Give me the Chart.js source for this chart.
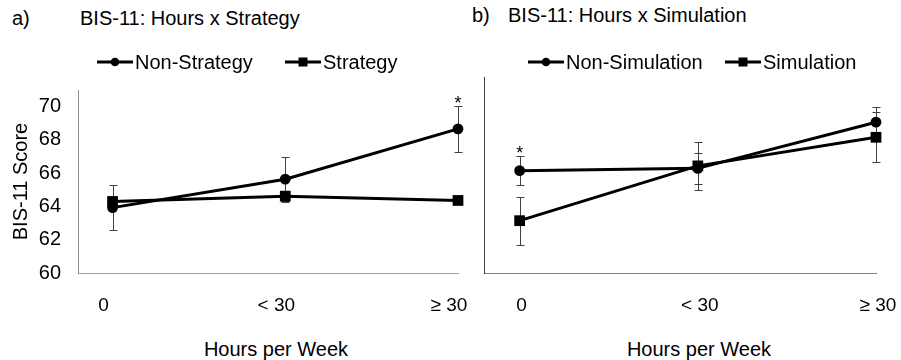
<!DOCTYPE html>
<html><head><meta charset="utf-8">
<script src="https://cdn.jsdelivr.net/npm/chart.js@4/dist/chart.umd.min.js"></script>
<style>
html,body{margin:0;padding:0;background:#fff;}
#wrap{position:relative;width:901px;height:360px;overflow:hidden;font-family:"Liberation Sans",Arial,sans-serif;color:#000;}
.t{position:absolute;white-space:nowrap;font-size:20px;line-height:20px;}
canvas{position:absolute;top:0;}
.leg{position:absolute;white-space:nowrap;font-size:20px;line-height:20px;display:flex;align-items:center;}
.leg svg{margin-right:2px;}
</style></head>
<body><div id="wrap">
<div class="t" style="left:12px;top:8px">a)</div>
<div class="t" style="left:80px;top:8px">BIS-11: Hours x Strategy</div>
<div class="t" style="left:472px;top:5px">b)</div>
<div class="t" style="left:508px;top:5px">BIS-11: Hours x Simulation</div>
<div class="t" style="left:276px;top:339px;transform:translateX(-50%)">Hours per Week</div>
<div class="t" style="left:699px;top:339px;transform:translateX(-50%)">Hours per Week</div>
<canvas id="ca" width="470" height="360" style="left:0px"></canvas>
<canvas id="cb" width="431" height="360" style="left:470px"></canvas>
</div>
<script>
// ---- data ----
const hours = ['0', '< 30', '\u2265 30'];
const yTicks = [60, 62, 64, 66, 68, 70];

const seriesA = ['Non-Strategy', 'Strategy'];
const nonStrategy = [63.93, 65.64, 68.66];
const nonStrategyErr = [1.37, 1.36, 1.38];
const nonStrategyStar = [false, false, true];
const strategy = [64.30, 64.62, 64.36];
const strategyErr = [0.28, 0.30, 0.20];
const strategyStar = [false, false, false];

const seriesB = ['Non-Simulation', 'Simulation'];
const nonSimulation = [66.16, 66.30, 69.08];
const nonSimulationErr = [0.87, 0.93, 0.94];
const nonSimulationStar = [true, false, false];
const simulation = [63.15, 66.45, 68.17];
const simulationErr = [1.45, 1.45, 1.50];
const simulationStar = [false, false, false];

const FONT = '"Liberation Sans", Arial, sans-serif';

// ---- legends (HTML) ----
function legendItem(name, style, svgLeft, top) {
  const d = document.createElement('div');
  d.className = 'leg';
  d.style.left = svgLeft + 'px';
  d.style.top = top + 'px';
  const mark = style === 'circle'
    ? '<circle cx="18" cy="6" r="4.3" fill="#000"/>'
    : '<rect x="13.5" y="1.5" width="9" height="9" fill="#000"/>';
  d.innerHTML = '<svg width="36" height="12" viewBox="0 0 36 12"><line x1="0" y1="6" x2="36" y2="6" stroke="#000" stroke-width="3"/>' + mark + '</svg><span>' + name + '</span>';
  document.getElementById('wrap').appendChild(d);
}
legendItem(seriesA[0], 'circle', 97, 52);
legendItem(seriesA[1], 'rect', 285, 52);
legendItem(seriesB[0], 'circle', 528, 52);
legendItem(seriesB[1], 'rect', 725, 52);

// ---- plugins ----
const errPlugin = {
  id: 'errbars',
  beforeDatasetsDraw(chart) {
    const ctx = chart.ctx, xs = chart.scales.x, ys = chart.scales.y;
    ctx.save();
    ctx.strokeStyle = '#404040';
    ctx.lineWidth = 1;
    chart.data.datasets.forEach(ds => {
      ds.errs.forEach((e, i) => {
        const v = ds.data[i].y;
        const px = Math.round(xs.getPixelForValue(i)) + 0.5;
        const t = Math.round(ys.getPixelForValue(v + e)) + 0.5;
        const b = Math.round(ys.getPixelForValue(v - e)) + 0.5;
        ctx.beginPath();
        ctx.moveTo(px, t); ctx.lineTo(px, b);
        ctx.moveTo(px - 4, t); ctx.lineTo(px + 4, t);
        ctx.moveTo(px - 4, b); ctx.lineTo(px + 4, b);
        ctx.stroke();
      });
    });
    ctx.restore();
  },
  afterDatasetsDraw(chart) {
    const ctx = chart.ctx, xs = chart.scales.x, ys = chart.scales.y;
    ctx.save();
    ctx.fillStyle = '#000';
    ctx.font = '18px ' + FONT;
    ctx.textAlign = 'center';
    ctx.textBaseline = 'alphabetic';
    chart.data.datasets.forEach(ds => {
      ds.stars.forEach((s, i) => {
        if (!s) return;
        const v = ds.data[i].y + ds.errs[i];
        ctx.fillText('*', xs.getPixelForValue(i), ys.getPixelForValue(v) + 3);
      });
    });
    ctx.restore();
  }
};

function pts(arr) { return arr.map((y, i) => ({ x: i, y })); }
function ds(label, vals, errs, stars, style) {
  return {
    label, data: pts(vals), errs, stars,
    borderColor: '#000', backgroundColor: '#000', borderWidth: 3,
    pointStyle: style, pointRadius: style === 'circle' ? 5.4 : 7.6,
    pointBorderWidth: 0, pointBackgroundColor: '#000', tension: 0, clip: false
  };
}

function makeChart(id, datasets, o) {
  return new Chart(document.getElementById(id), {
    type: 'line',
    data: { datasets },
    plugins: [errPlugin],
    options: {
      responsive: false, animation: false, events: [],
      layout: { padding: { left: 0, top: o.top, right: o.right, bottom: 0 } },
      plugins: { legend: { display: false }, tooltip: { enabled: false } },
      scales: {
        x: {
          type: 'linear', min: -0.2, max: 2,
          afterBuildTicks: s => { s.ticks = hours.map((h, i) => ({ value: i })); },
          afterFit: s => { s.height = 87; s.paddingLeft = 0; s.paddingRight = 0; },
          grid: { display: false, drawTicks: false },
          border: { display: true, color: o.xBorder, width: 1 },
          ticks: { padding: 21, labelOffset: o.labelOffset, font: { size: 19, family: FONT }, color: '#000',
                   autoSkip: false, maxRotation: 0, callback: v => hours[v] }
        },
        y: {
          min: 60, max: o.yMax,
          afterBuildTicks: s => { s.ticks = yTicks.map(v => ({ value: v })); },
          afterFit: s => { s.width = o.yWidth; s.paddingTop = 0; s.paddingBottom = 0; },
          grid: { display: false, drawTicks: false },
          border: { display: true, color: o.yBorder, width: 1 },
          ticks: { display: o.yLabels, padding: 17, font: { size: 20, family: FONT }, color: '#000' },
          title: { display: o.yLabels, text: 'BIS-11 Score', color: '#000', font: { size: 20, family: FONT }, padding: { top: 9, bottom: 0 } }
        }
      }
    }
  });
}

makeChart('ca', [
  ds(seriesA[0], nonStrategy, nonStrategyErr, nonStrategyStar, 'circle'),
  ds(seriesA[1], strategy, strategyErr, strategyStar, 'rect')
], { top: 90, right: 12, yMax: 71, yWidth: 78, yLabels: true, xBorder: '#a0a0a0', yBorder: '#8c8c8c', labelOffset: -9 });

makeChart('cb', [
  ds(seriesB[0], nonSimulation, nonSimulationErr, nonSimulationStar, 'circle'),
  ds(seriesB[1], simulation, simulationErr, simulationStar, 'rect')
], { top: 77, right: 25, yMax: 71.8, yWidth: 14, yLabels: false, xBorder: '#808080', yBorder: '#404040', labelOffset: 2 });
</script>
</body></html>
